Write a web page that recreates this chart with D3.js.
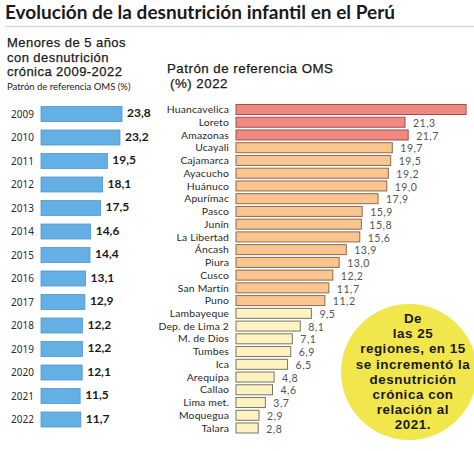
<!DOCTYPE html>
<html><head><meta charset="utf-8">
<script src="https://cdn.jsdelivr.net/npm/d3@7"></script>
<style>
html,body{margin:0;padding:0;background:#fff;}
svg{display:block;}
</style></head>
<body>
<script>
const years = ["2009","2010","2011","2012","2013","2014","2015","2016","2017","2018","2019","2020","2021","2022"];
const yearValues = [23.8,23.2,19.5,18.1,17.5,14.6,14.4,13.1,12.9,12.2,12.2,12.1,11.5,11.7];
const yearLabels = ["23,8","23,2","19,5","18,1","17,5","14,6","14,4","13,1","12,9","12,2","12,2","12,1","11,5","11,7"];

const regions = ["Huancavelica","Loreto","Amazonas","Ucayali","Cajamarca","Ayacucho","Huánuco","Apurímac","Pasco","Junín","La Libertad","Áncash","Piura","Cusco","San Martín","Puno","Lambayeque","Dep. de Lima 2","M. de Dios","Tumbes","Ica","Arequipa","Callao","Lima met.","Moquegua","Talara"];
const regionValues = [29.0,21.3,21.7,19.7,19.5,19.2,19.0,17.9,15.9,15.8,15.6,13.9,13.0,12.2,11.7,11.2,9.5,8.1,7.1,6.9,6.5,4.8,4.6,3.7,2.9,2.8];
const regionLabels = ["","21,3","21,7","19,7","19,5","19,2","19,0","17,9","15,9","15,8","15,6","13,9","13,0","12,2","11,7","11,2","9,5","8,1","7,1","6,9","6,5","4,8","4,6","3,7","2,9","2,8"];
const regionGroup = ["high","high","high","mid","mid","mid","mid","mid","mid","mid","mid","mid","mid","mid","mid","mid","low","low","low","low","low","low","low","low","low","low"];

const bubbleLines = ["De","las 25","regiones, en 15","se incrementó la","desnutrición","crónica con","relación al","2021."];
const leftSub = ["Menores de 5 años","con desnutrición","crónica 2009-2022"];
const rightSub = ["Patrón de referencia OMS","(%) 2022"];

const W = 474, H = 451;
const FONT = "Lato, 'Open Sans', sans-serif";
const TIGHT = "'Liberation Sans', Arial, sans-serif";
const svg = d3.select("body").append("svg").attr("width", W).attr("height", H);

// Title
svg.append("text").attr("x", 5).attr("y", 19)
  .attr("font-family", FONT).attr("font-weight", 700).attr("font-size", 18)
  .attr("fill", "#1a1a1a")
  .attr("textLength", 390).attr("lengthAdjust", "spacingAndGlyphs")
  .text("Evolución de la desnutrición infantil en el Perú");
svg.append("line").attr("x1", 5).attr("x2", W).attr("y1", 26.5).attr("y2", 26.5)
  .attr("stroke", "#d8d8d8").attr("stroke-width", 1.5);

// Left subtitle
svg.selectAll("text.lsub").data(leftSub).join("text").attr("class","lsub")
  .attr("x", 7).attr("y", (d,i) => 47 + i*14.6)
  .attr("font-family", TIGHT).attr("font-size", 13).attr("letter-spacing", 0.45)
  .attr("fill", "#1a1a1a").attr("stroke", "#1a1a1a").attr("stroke-width", 0.25)
  .text(d => d);
svg.append("text").attr("x", 7).attr("y", 89.5)
  .attr("font-family", FONT).attr("font-size", 9.5).attr("fill", "#222")
  .text("Patrón de referencia OMS (%)");

// Right subtitle
svg.selectAll("text.rsub").data(rightSub).join("text").attr("class","rsub")
  .attr("x", (d,i) => i === 0 ? 167 : 170).attr("y", (d,i) => 72.5 + i*15)
  .attr("font-family", TIGHT).attr("font-size", 13.3).attr("letter-spacing", 0.5)
  .attr("fill", "#1a1a1a").attr("stroke", "#1a1a1a").attr("stroke-width", 0.25)
  .text(d => d);

// Left chart
const yL = d3.scalePoint().domain(years).range([114, 419.5]);
const xL = d3.scaleLinear().domain([0, 23.8]).range([41, 122]);
const gL = svg.append("g");
gL.selectAll("rect").data(years).join("rect")
  .attr("x", xL(0)).attr("y", d => yL(d) - 7.5)
  .attr("width", (d,i) => xL(yearValues[i]) - xL(0)).attr("height", 15)
  .attr("fill", "#64afe4").attr("stroke", "#4f97cf").attr("stroke-width", 0.8);
gL.selectAll("text.yr").data(years).join("text").attr("class","yr")
  .attr("x", 34).attr("y", d => yL(d)).attr("dy", "0.35em").attr("text-anchor", "end")
  .attr("font-family", "'Noto Sans', sans-serif").attr("font-size", 10).attr("fill", "#2a2a2a")
  .text(d => d);
gL.selectAll("text.val").data(years).join("text").attr("class","val")
  .attr("x", (d,i) => xL(yearValues[i]) + 5).attr("y", d => yL(d) - 1).attr("dy", "0.35em")
  .attr("font-family", FONT).attr("font-weight", 700).attr("font-size", 12).attr("fill", "#1a1a1a")
  .text((d,i) => yearLabels[i]);

// Right chart
const yR = d3.scalePoint().domain(regions).range([109.5, 428]);
const xR = d3.scaleLinear().domain([0, 21.3]).range([236, 405]);
const fills = {high: "#f08a80", mid: "#fbc58f", low: "#fdf3c2"};
const strokes = {high: "#a0504a", mid: "#8a6a50", low: "#7a7460"};
const gR = svg.append("g");
gR.selectAll("rect").data(regions).join("rect")
  .attr("x", xR(0)).attr("y", d => yR(d) - 5)
  .attr("width", (d,i) => xR(regionValues[i]) - xR(0)).attr("height", 10)
  .attr("fill", (d,i) => fills[regionGroup[i]])
  .attr("stroke", (d,i) => strokes[regionGroup[i]]).attr("stroke-width", 1);
gR.selectAll("text.reg").data(regions).join("text").attr("class","reg")
  .attr("x", 229).attr("y", d => yR(d)).attr("dy", "0.35em").attr("text-anchor", "end")
  .attr("font-family", FONT).attr("font-size", 10.4).attr("fill", "#2a2a2a")
  .attr("letter-spacing", 0.15)
  .text(d => d);
gR.selectAll("text.rv").data(regions).join("text").attr("class","rv")
  .attr("x", (d,i) => xR(regionValues[i]) + 8).attr("y", d => yR(d) + 1).attr("dy", "0.35em")
  .attr("font-family", FONT).attr("font-size", 10.5).attr("letter-spacing", 0.5).attr("fill", "#555")
  .text((d,i) => regionLabels[i]);

// Bubble
svg.append("circle").attr("cx", 409).attr("cy", 372).attr("r", 68)
  .attr("fill", "#f1e64c");
svg.selectAll("text.bub").data(bubbleLines).join("text").attr("class","bub")
  .attr("x", 413).attr("y", (d,i) => 323 + i*15.2).attr("text-anchor", "middle")
  .attr("font-family", TIGHT).attr("font-weight", 700).attr("font-size", 13.4)
  .attr("letter-spacing", 0.55).attr("fill", "#1a1a1a")
  .text(d => d);
</script>
</body></html>
